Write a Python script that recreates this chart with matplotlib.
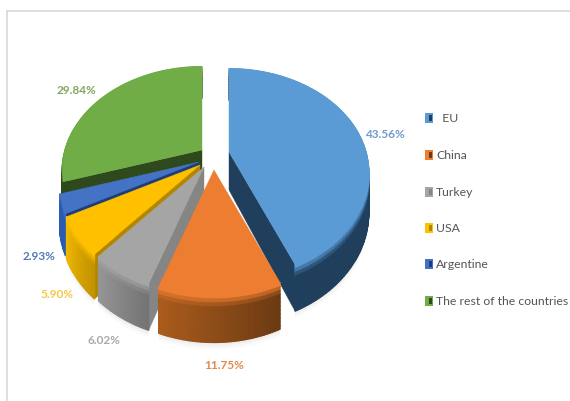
import numpy as np
import matplotlib
matplotlib.use('Agg')
import matplotlib.pyplot as plt
from matplotlib.collections import PolyCollection
from matplotlib.patches import Polygon, Rectangle

legend_labels = ['  EU', 'China', 'Turkey', 'USA', 'Argentine', 'The rest of the countries']
shares = [43.56, 11.75, 6.02, 5.90, 2.93, 29.84]
colors = ['#5B9BD5', '#ED7D31', '#A5A5A5', '#FFC000', '#4472C4', '#70AD47']
cut_colors = ['#203F5C', '#6B3A12', '#858585', '#B38600', '#1C3D7A', '#2E4A1C']
wall_colors = ['#203F5C', '#6B3A12', '#747474', '#C29300', '#2A5BB0', '#2E4A1C']
wall_light = [0.0, 0.6, 0.3, 0.25, 0.0, 0.0]
label_colors = ['#6C9BCB', '#E08A4A', '#A9A9A9', '#F5C842', '#5578B5', '#7FA860']

# where each exploded slice has its tip, in pixels
tips = [(229, 153), (214, 171), (204, 168), (200, 166), (199, 163), (202, 151)]
label_pos = [(385, 135), (224, 366), (104, 341), (57, 295), (39, 256), (76, 91)]
legend_y = [119, 156, 193, 229, 265, 302]

RX, RY, PERSP, DEPTH = 137, 100, 0.2, 38

plt.rcParams['font.family'] = ['Lato', 'DejaVu Sans']

fig = plt.figure(figsize=(5.70, 4.02), dpi=100)
ax = fig.add_axes([0, 0, 1, 1])
ax.set_xlim(0, 570)
ax.set_ylim(402, 0)
ax.axis('off')


def project(tip, theta):
    # clockwise from 12 o'clock; the near side of the pie is drawn larger
    u, v = np.sin(theta), np.cos(theta)
    s = 1 / (1 + PERSP * v)
    return tip[0] + RX * u * s, tip[1] - RY * v * s, DEPTH * s


def draw_wall(tip, a0, a1, color, wall, light):
    # outer rim, split into small quads to get the shading over the height
    thetas = np.linspace(a0, a1, max(int((a1 - a0) * 60), 4))
    levels = np.linspace(0, 1, 13)
    top = np.array(matplotlib.colors.to_rgb(color))
    base = np.array(matplotlib.colors.to_rgb(wall))
    quads, fills = [], []
    for t0, t1 in zip(thetas[:-1], thetas[1:]):
        x0, y0, d0 = project(tip, t0)
        x1, y1, d1 = project(tip, t1)
        # going clockwise along the front means moving left, where it gets lighter
        along = (t0 - a0) / (a1 - a0)
        body = np.clip(base * (1 + light * along), 0, 1)
        for h0, h1 in zip(levels[:-1], levels[1:]):
            quads.append([(x0, y0 + h0 * d0), (x1, y1 + h0 * d1), (x1, y1 + h1 * d1), (x0, y0 + h1 * d0)])
            mix = min(h0 / 0.22, 1)
            fills.append(tuple(top * (1 - mix) + body * mix))
    ax.add_collection(PolyCollection(quads, facecolors=fills, edgecolors=fills, linewidths=0.9))


def draw_shadow(tip, a0, a1):
    pts = [project(tip, t) for t in np.linspace(a0, a1, 60)]
    for off, alpha in [(7, 0.03), (5, 0.04), (3, 0.05)]:
        low = [(x, y + d + off) for x, y, d in pts]
        high = [(x, y + d - 20) for x, y, d in pts]
        ax.add_patch(Polygon(low + high[::-1], closed=True, fc='#808080', ec='none', alpha=alpha))


edges = np.radians(np.concatenate([[0], np.cumsum(shares)]) * 3.6)

# shadow on the page comes first, then slices from the back of the pie to the front
for i in range(len(shares)):
    draw_shadow(tips[i], edges[i], edges[i + 1])

for i in [5, 4, 3, 2, 0, 1]:
    tip = tips[i]
    a0, a1 = edges[i], edges[i + 1]
    # the EU slice shows its closing cut, the left hand slices show their opening cut
    cut_angle = a1 if i == 0 else a0
    if i != 1:
        x, y, d = project(tip, cut_angle)
        cut = [tip, (x, y), (x, y + d), (tip[0], tip[1] + DEPTH)]
        ax.add_patch(Polygon(cut, closed=True, fc=cut_colors[i], ec=cut_colors[i], lw=0.3))
    draw_wall(tip, a0, a1, colors[i], wall_colors[i], wall_light[i])
    arc = [project(tip, t)[:2] for t in np.linspace(a0, a1, 120)]
    ax.add_patch(Polygon([tip] + arc, closed=True, fc=colors[i], ec=colors[i], lw=0.3))

for share, pos, col in zip(shares, label_pos, label_colors):
    ax.text(pos[0], pos[1], f'{share:.2f}%', color=col, fontsize=8.5, fontweight='bold',
            ha='center', va='center')

for label, y, col, dark in zip(legend_labels, legend_y, colors, cut_colors):
    ax.add_patch(Rectangle((425, y - 5), 8, 10, fc=col, ec='none'))
    ax.add_patch(Rectangle((428.5, y - 3), 3, 6, fc=dark, ec='none'))
    ax.text(436, y, label, color='#555555', fontsize=8.8, ha='left', va='center')

# chart frame, top and left only
ax.plot([7, 570], [12, 12], color='#D9D9D9', lw=1.2, clip_on=False)
ax.plot([7, 7], [12, 402], color='#D9D9D9', lw=1.2, clip_on=False)

fig.savefig('out.png', dpi=100)
